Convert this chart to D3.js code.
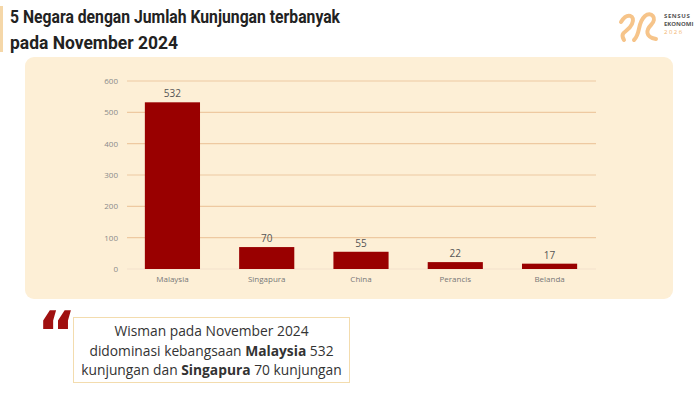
<!DOCTYPE html>
<html>
<head>
<meta charset="utf-8">
<script src="https://cdn.jsdelivr.net/npm/d3@7"></script>
<style>
  body { margin: 0; background: #fff; }
  svg { display: block; font-family: "Open Sans", sans-serif; }
</style>
</head>
<body>
<div id="chart"></div>
<script>
// data
var countries = ["Malaysia", "Singapura", "China", "Perancis", "Belanda"];
var visits = [532, 70, 55, 22, 17];
var yTicks = [0, 100, 200, 300, 400, 500, 600];

var width = 700, height = 393;

var svg = d3.select("#chart").append("svg")
    .attr("width", width)
    .attr("height", height);

// left accent bar next to title
svg.append("rect")
    .attr("x", 0).attr("y", 6)
    .attr("width", 3).attr("height", 46)
    .style("fill", "#f5d7a8");

// title (condensed look, forced to reference width)
var titleLines = [["5 Negara dengan Jumlah Kunjungan terbanyak", 23, 330], ["pada November 2024", 49, 168]];
titleLines.forEach(function(l){
  svg.append("text")
      .attr("x", 10)
      .attr("y", l[1])
      .attr("textLength", l[2])
      .attr("lengthAdjust", "spacingAndGlyphs")
      .style("font-family", "'Roboto', sans-serif")
      .style("font-size", "19px")
      .style("font-weight", "bold")
      .style("fill", "#222")
      .text(l[0]);
});

// logo (rough)
var logo = svg.append("g");
logo.append("path")
    .attr("d", "M621,22 C627,12 636,15 632,24 C628,33 619,31 624,40 M634,40 C641,33 637,23 645,16 C651,11 658,18 651,25 C646,30 645,37 656,39")
    .style("fill", "none").style("stroke", "#f6c48a").style("stroke-width", 4)
    .style("stroke-linecap", "round");
logo.append("text").attr("x", 664).attr("y", 18).text("SENSUS")
    .style("font-size", "6px").style("font-weight", "bold").style("letter-spacing", "0.6px").style("fill", "#555");
logo.append("text").attr("x", 664).attr("y", 26).text("EKONOMI")
    .style("font-size", "6px").style("font-weight", "bold").style("fill", "#555");
logo.append("text").attr("x", 664).attr("y", 34).text("2026")
    .style("font-size", "6px").style("letter-spacing", "1.5px").style("fill", "#f2b36d");

// chart panel
svg.append("rect")
    .attr("x", 25).attr("y", 57)
    .attr("width", 648).attr("height", 242)
    .attr("rx", 9)
    .style("fill", "#fdefd6");

var x = d3.scaleBand()
    .domain(countries)
    .range([126, 596])
    .paddingInner(0.415)
    .paddingOuter(0.2);

var y = d3.scaleLinear()
    .domain([0, 600])
    .range([269, 81]);

// gridlines
svg.append("g").selectAll("line")
    .data(yTicks)
    .enter().append("line")
        .attr("x1", 127)
        .attr("x2", 596)
        .attr("y1", function(d){ return y(d); })
        .attr("y2", function(d){ return y(d); })
        .style("stroke", function(d){ return d == 0 ? "#f3e2cc" : "#eec9a1"; })
        .style("stroke-width", 1.2);

// y axis
var yAxis = svg.append("g")
    .attr("transform", "translate(118,0)")
    .call(d3.axisLeft(y).tickValues(yTicks).tickSize(0).tickPadding(0));
yAxis.select(".domain").remove();
yAxis.selectAll("text")
    .style("font-size", "8px")
    .style("fill", "#8a8a8a")
    .style("font-family", "'Open Sans', sans-serif");

// x axis
var xAxis = svg.append("g")
    .attr("transform", "translate(0,276)")
    .call(d3.axisBottom(x).tickSize(0).tickPadding(0));
xAxis.select(".domain").remove();
xAxis.selectAll("text")
    .style("font-size", "8px")
    .style("fill", "#777")
    .style("font-family", "'Open Sans', sans-serif");

// bars
svg.append("g").selectAll("rect")
    .data(visits)
    .enter().append("rect")
        .attr("x", function(d, i){ return x(countries[i]); })
        .attr("y", function(d){ return y(d); })
        .attr("width", x.bandwidth())
        .attr("height", function(d){ return y(0) - y(d); })
        .style("fill", "#990000");

// value labels
svg.append("g").selectAll("text")
    .data(visits)
    .enter().append("text")
        .attr("x", function(d, i){ return x(countries[i]) + x.bandwidth() / 2; })
        .attr("y", function(d){ return y(d) - 5; })
        .attr("text-anchor", "middle")
        .style("font-size", "10px")
        .style("fill", "#555")
        .text(function(d){ return d; });

// quote mark
svg.append("text")
    .attr("x", 37).attr("y", 354)
    .style("font-family", "'DejaVu Sans', sans-serif")
    .style("font-size", "60px")
    .style("font-weight", "bold")
    .style("fill", "#a01010")
    .text("\u201C");

// quote box
svg.append("rect")
    .attr("x", 73.5).attr("y", 317.5)
    .attr("width", 276).attr("height", 65)
    .style("fill", "#fff")
    .style("stroke", "#f3dcae")
    .style("stroke-width", 1);

var lines = [
  [["Wisman pada November 2024", false]],
  [["didominasi kebangsaan ", false], ["Malaysia", true], [" 532", false]],
  [["kunjungan dan ", false], ["Singapura", true], [" 70 kunjungan", false]]
];
lines.forEach(function(parts, i){
  var t = svg.append("text")
      .attr("x", 211.5)
      .attr("y", 336 + i * 19.5)
      .attr("text-anchor", "middle")
      .style("font-family", "'Open Sans', sans-serif")
      .style("font-size", "13.8px")
      .style("fill", "#333");
  parts.forEach(function(p){
    t.append("tspan").text(p[0]).style("font-weight", p[1] ? "bold" : "normal");
  });
});
</script>
</body>
</html>
